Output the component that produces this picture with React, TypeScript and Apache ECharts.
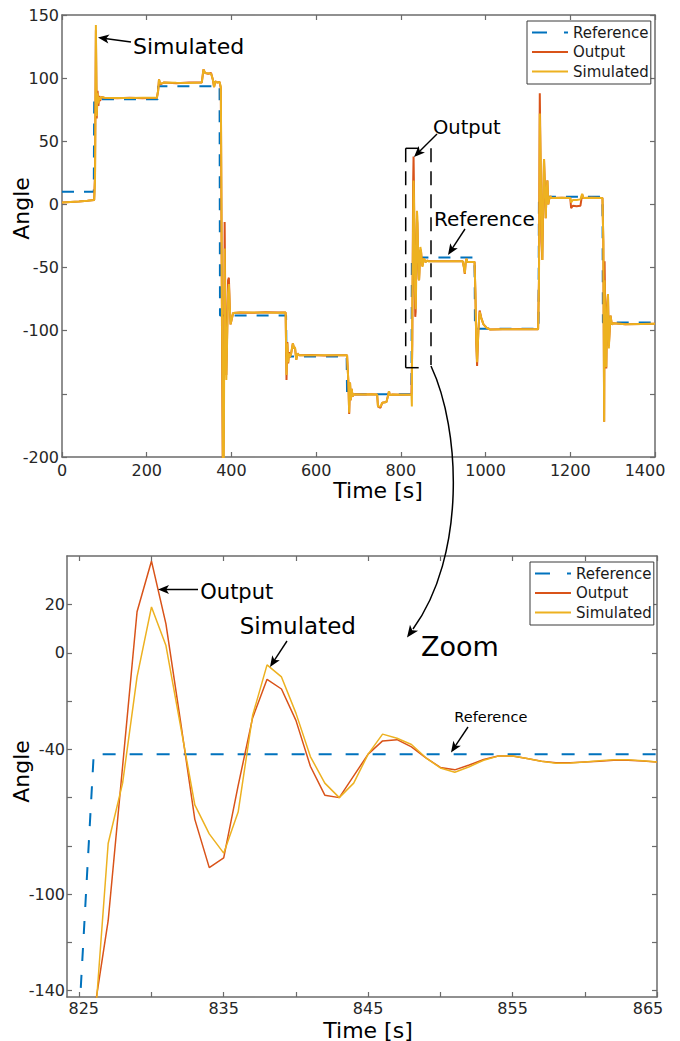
import React, { useEffect, useRef } from "react";
import * as echarts from "echarts";

const BLUE = "#0072BD";
const RED = "#D95319";
const YELLOW = "#EDB120";
const FONT = "'DejaVu Sans', Verdana, sans-serif";
const AXIS_COLOR = "#6b6b6b";
const LABEL_COLOR = "#262626";

// Set-point over the whole run (step edges take one second)
const refTime = [0, 75, 76, 226, 227, 372, 373, 529, 530, 672, 673, 825, 826, 974, 975, 1125, 1126, 1276, 1277, 1400];
const refAngle = [10, 10, 83.2, 83.2, 93.5, 93.5, -88, -88, -120.5, -120.5, -150.3, -150.3, -42, -42, -98.5, -98.5, 6, 6, -93.5, -93.5];

// Whole run, before the zoomed window
const runTimeA = [
  0, 20, 40, 60, 76,
  78, 80, 82, 84, 86,
  88, 90, 93, 100, 130,
  160, 190, 224, 227, 229,
  232, 240, 270, 300, 330,
  334, 338, 345, 352, 356,
  359, 362, 366, 372, 375,
  376, 378, 380, 382, 384,
  386, 388, 390, 392, 394,
  396, 398, 400, 404, 420,
  450, 480, 510, 528, 530,
  532, 534, 536, 538, 541,
  545, 548, 550, 553, 556,
  560, 590, 620, 650, 673,
  676, 678, 680, 682, 684,
  686, 689, 710, 730, 744,
  746, 752, 756, 766, 770,
  772, 774, 780, 800, 824,
];
const runOutputA = [
  1.5, 2, 2.4, 3, 3.5,
  25, 138, 68, 90, 78,
  86, 82, 85, 84.5, 84,
  84.5, 84, 84.5, 90, 99,
  95, 96.5, 96, 96.5, 96.5,
  107, 104, 103.5, 104, 99,
  93, 97.5, 96.5, 97, 92,
  20, -120, -230, -180, -14,
  -100, -135, -100, -60, -58,
  -80, -95, -92, -86, -85.5,
  -85.8, -85.4, -85.6, -85.5, -139,
  -109, -126, -117, -121, -118,
  -110, -114, -113, -123, -118,
  -119.5, -119.3, -119.6, -119.4, -119.5,
  -140, -166, -141, -155, -146,
  -152, -150.3, -150.5, -150.3, -150.5,
  -160, -161, -157, -156.5, -151,
  -148, -151, -150.5, -150.8, -150.5,
];
const runSimulatedA = [
  1.5, 2, 2.4, 3, 3.5,
  20, 142, 70, 88, 80,
  85, 83, 85, 84.5, 84.3,
  84.2, 84.5, 84.5, 90, 99,
  95.5, 96.5, 96.3, 96.2, 96.5,
  107, 104, 103.8, 103.5, 99,
  93, 97.5, 96.5, 97, 93,
  30, -100, -215, -200, -35,
  -110, -139, -105, -70, -63,
  -80, -95, -92, -86, -85.6,
  -85.6, -85.5, -85.7, -85.5, -135,
  -110, -125, -118, -121, -118,
  -110, -114, -113, -123, -118,
  -119.5, -119.4, -119.5, -119.4, -119.5,
  -140, -165, -141, -155, -146,
  -152, -150.3, -150.5, -150.4, -150.5,
  -160, -160, -157, -156.5, -151,
  -148, -151, -150.5, -150.7, -150.5,
];

// Zoomed window, 825-865 s, one-second samples
const zoomTime = [
  825, 826, 827, 828, 829, 830, 831, 832, 833, 834,
  835, 836, 837, 838, 839, 840, 841, 842, 843, 844,
  845, 846, 847, 848, 849, 850, 851, 852, 853, 854,
  855, 856, 857, 858, 859, 860, 861, 862, 863, 864,
  865,
];
const zoomReference = [
  -150, -42, -42, -42, -42, -42, -42, -42, -42, -42,
  -42, -42, -42, -42, -42, -42, -42, -42, -42, -42,
  -42, -42, -42, -42, -42, -42, -42, -42, -42, -42,
  -42, -42, -42, -42, -42, -42, -42, -42, -42, -42,
  -42,
];
const zoomOutput = [
  -150, -150, -111, -47, 17, 38, 12, -28, -69, -89,
  -85, -55, -27, -11, -15, -28, -47, -59, -60, -51,
  -42, -36.5, -36, -39, -43.5, -47.5, -48.5, -46.5, -44.2, -42.8,
  -42.8, -43.8, -44.9, -45.6, -45.6, -45.2, -44.9, -44.5, -44.5, -44.8,
  -45.2,
];
const zoomSimulated = [
  -150, -160, -79, -54, -10, 19, 3, -30, -63, -75,
  -83, -66, -26, -5, -10, -25, -43, -54, -60, -54,
  -42, -33.7, -35.4, -38, -43.5, -47.7, -49.5, -47.2, -44.5, -42.8,
  -42.8, -43.8, -44.9, -45.8, -45.7, -45.2, -44.7, -44.3, -44.3, -44.7,
  -45.2,
];

// Whole run, after the zoomed window
const runTimeB = [
  880, 910, 946, 949, 951,
  953, 955, 957, 974, 976,
  978, 980, 983, 986, 990,
  995, 1002, 1010, 1040, 1080,
  1124, 1126, 1128, 1130, 1132,
  1134, 1136, 1138, 1140, 1142,
  1144, 1146, 1148, 1150, 1153,
  1156, 1180, 1200, 1202, 1206,
  1215, 1224, 1228, 1231, 1250,
  1276, 1278, 1280, 1281, 1283,
  1285, 1287, 1289, 1291, 1293,
  1295, 1298, 1302, 1330, 1370,
  1400,
];
const runOutputB = [
  -45, -45, -45, -50, -55,
  -46, -43, -45.5, -45.5, -70,
  -110, -128, -100, -84, -90,
  -95, -97.5, -99, -98.8, -98.7,
  -98.8, -60, 88, 30, -30,
  -44, 0, 36, 15, -11,
  10, 19, 0, 4, 6.5,
  5, 5.2, 5, -3, -1,
  -1.5, -1, 8, 5, 5.2,
  5, -30, -172, -45, -100,
  -130, -80, -71, -112, -100,
  -88, -95, -94, -94.8, -94.6,
  -94.5,
];
const runSimulatedB = [
  -45, -45, -45, -50, -54.6,
  -46, -43, -45.5, -45.5, -70,
  -108, -125, -100, -85, -90,
  -95, -97.5, -99, -98.8, -98.8,
  -98.8, -65, 72, 35, -20,
  -44, 5, 36, 15, -11,
  10, 19, 0, 4, 6.5,
  5, 5.2, 5, 1.5, 3.5,
  3.5, 4, 8.5, 5, 5.2,
  5, -30, -172, -60, -110,
  -129, -82, -71, -114, -100,
  -88, -95, -94, -94.8, -94.6,
  -94.5,
];

// Axis ticks and labels
const runTimeTicks = { min: 0, max: 1400, interval: 200 };
const runAngleTicks = { min: -200, max: 150, interval: 50 };
const runAngleHiddenLabel = -150;
const zoomTimeRange = { min: 824.15, max: 865 };
const zoomTimeTicks = [825, 830, 835, 840, 845, 850, 855, 860, 865];
const zoomTimeLabels = [825, 835, 845, 855, 865];
const zoomAngleRange = { min: -142.6, max: 40.1 };
const zoomAngleTicks = [-140, -120, -100, -80, -60, -40, -20, 0, 20];
const zoomAngleLabels = [-140, -100, -40, 0, 20];

const pairs = (xs: number[], ys: number[]) => xs.map((x, i) => [x, ys[i]]);

const runTime = [...runTimeA, ...zoomTime, ...runTimeB];
const runOutput = [...runOutputA, ...zoomOutput, ...runOutputB];
const runSimulated = [...runSimulatedA, ...zoomSimulated, ...runSimulatedB];

const labelText = { fontFamily: FONT, fontSize: 16, color: LABEL_COLOR };
const axisLine = { show: true, onZero: false, lineStyle: { color: AXIS_COLOR, width: 1.5 } };
const axisTick = { show: true, inside: true, length: 5, lineStyle: { color: AXIS_COLOR, width: 1.2 } };

function text(str: string, x: number, y: number, size: number, extra: any = {}) {
  return {
    type: "text",
    x,
    y,
    z: 100,
    silent: true,
    ...extra,
    style: {
      text: str,
      fontFamily: FONT,
      fontSize: size,
      fill: "#000",
      align: extra.align || "left",
      verticalAlign: "middle",
    },
  };
}

function arrowHead(tx: number, ty: number, ux: number, uy: number, len = 11, half = 4.5) {
  const bx = tx - ux * len;
  const by = ty - uy * len;
  const nx = tx - ux * len * 0.75;
  const ny = ty - uy * len * 0.75;
  return {
    type: "polygon",
    z: 100,
    silent: true,
    shape: {
      points: [
        [tx, ty],
        [bx - uy * half, by + ux * half],
        [nx, ny],
        [bx + uy * half, by - ux * half],
      ],
    },
    style: { fill: "#000" },
  };
}

function arrow(x1: number, y1: number, x2: number, y2: number) {
  const dx = x2 - x1;
  const dy = y2 - y1;
  const l = Math.hypot(dx, dy);
  const ux = dx / l;
  const uy = dy / l;
  return [
    {
      type: "line",
      z: 100,
      silent: true,
      shape: { x1, y1, x2: x2 - ux * 7, y2: y2 - uy * 7 },
      style: { stroke: "#000", lineWidth: 1.4 },
    },
    arrowHead(x2, y2, ux, uy),
  ];
}

function dashed(x1: number, y1: number, x2: number, y2: number, dash: number[]) {
  return {
    type: "line",
    z: 100,
    silent: true,
    shape: { x1, y1, x2, y2 },
    style: { stroke: "#000", lineWidth: 1.5, lineDash: dash },
  };
}

function buildOption() {
  const curveEnd = { x: 413, y: 629 };
  const cp2 = { x: 466, y: 556 };
  const cdx = 407 - cp2.x;
  const cdy = 637.5 - cp2.y;
  const cl = Math.hypot(cdx, cdy);

  const graphic = [
    // axis titles
    text("Time [s]", 378, 490.5, 22, { align: "center" }),
    text("Angle", 21, 208.4, 22, { align: "center", rotation: Math.PI / 2 }),
    text("Time [s]", 368, 1030, 22, { align: "center" }),
    text("Angle", 21.5, 771.5, 22, { align: "center", rotation: Math.PI / 2 }),

    // notes on the whole-run plot
    text("Simulated", 133, 46, 22),
    ...arrow(131, 42, 98, 37.5),
    text("Output", 433, 127.5, 19.5),
    ...arrow(437, 134, 414, 157),
    text("Reference", 434, 219, 20),
    ...arrow(465, 229, 448, 255),

    // outline of the zoomed window
    dashed(405.7, 148.3, 431, 148.3, [13, 13]),
    dashed(405.7, 148.3, 405.7, 367.7, [14, 9]),
    dashed(431, 148.3, 431, 365, [14, 9]),
    dashed(405.7, 367.7, 431, 367.7, [13, 13]),
    {
      type: "bezierCurve",
      z: 100,
      silent: true,
      shape: { x1: 431, y1: 366, cpx1: 461, cpy1: 430, cpx2: cp2.x, cpy2: cp2.y, x2: curveEnd.x, y2: curveEnd.y },
      style: { stroke: "#000", lineWidth: 1.5, fill: "none" },
    },
    arrowHead(407, 637.5, cdx / cl, cdy / cl, 12, 5),

    // notes on the zoomed plot
    text("Output", 200.3, 591.8, 21),
    ...arrow(198, 589.5, 158, 589.5),
    text("Simulated", 239.7, 625.5, 23),
    ...arrow(287, 641, 270, 667),
    text("Zoom", 421, 646.7, 27),
    text("Reference", 454.3, 717, 14.5),
    ...arrow(468, 727, 451, 752.5),
  ];

  const legendBase = {
    orient: "vertical",
    itemWidth: 36,
    itemHeight: 14,
    itemGap: 4.5,
    padding: [4, 2, 5, 4],
    borderColor: "#3a3a3a",
    borderWidth: 1,
    borderRadius: 0,
    backgroundColor: "#fff",
    selectedMode: false,
    // line-only keys: the marker dot is made transparent
    itemStyle: { color: "rgba(0,0,0,0)", borderWidth: 0, opacity: 0 },
    textStyle: { fontFamily: FONT, fontSize: 15, color: "#1a1a1a" },
    data: [
      { name: "Reference", lineStyle: { type: [15, 17], width: 2 } },
      { name: "Output" },
      { name: "Simulated" },
    ],
  };

  const line = (name: string, color: string, width: number, data: number[][], gridIdx: number, dash?: number[]) => ({
    name,
    type: "line",
    xAxisIndex: gridIdx * 2,
    yAxisIndex: gridIdx * 2,
    data,
    symbol: "none",
    showSymbol: false,
    clip: true,
    silent: true,
    color,
    lineStyle: { color, width, type: dash || "solid" },
    emphasis: { disabled: true },
  });

  return {
    animation: false,
    backgroundColor: "#fff",
    grid: [
      { left: 62, top: 15, width: 593, height: 442, outerBoundsMode: "none" },
      { left: 67, top: 556, width: 590, height: 441, outerBoundsMode: "none" },
    ],
    legend: [
      { ...legendBase, left: 527, top: 21 },
      { ...legendBase, left: 530, top: 562 },
    ],
    xAxis: [
      {
        gridIndex: 0,
        type: "value",
        position: "bottom",
        ...runTimeTicks,
        axisLine,
        axisTick,
        splitLine: { show: false },
        axisLabel: {
          ...labelText,
          margin: 5,
          formatter: (v: number) => (v === runTimeTicks.max ? `{end|${v}}` : `${v}`),
          rich: { end: { ...labelText, padding: [0, 20, 0, 0] } },
        },
      },
      {
        gridIndex: 0,
        type: "value",
        position: "top",
        ...runTimeTicks,
        axisLine,
        axisTick,
        splitLine: { show: false },
        axisLabel: { show: false },
      },
      {
        gridIndex: 1,
        type: "value",
        position: "bottom",
        ...zoomTimeRange,
        axisLine,
        axisTick: { ...axisTick, customValues: zoomTimeTicks },
        splitLine: { show: false },
        axisLabel: {
          ...labelText,
          margin: 3,
          customValues: zoomTimeLabels,
          formatter: (v: number) =>
            v === zoomTimeLabels[0] ? `{first|${v}}` : v === zoomTimeLabels[zoomTimeLabels.length - 1] ? `{last|${v}}` : `${v}`,
          rich: {
            first: { ...labelText, padding: [0, 0, 0, 9] },
            last: { ...labelText, padding: [0, 18, 0, 0] },
          },
        },
      },
      {
        gridIndex: 1,
        type: "value",
        position: "top",
        ...zoomTimeRange,
        axisLine,
        axisTick: { ...axisTick, customValues: zoomTimeTicks },
        splitLine: { show: false },
        axisLabel: { show: false },
      },
    ],
    yAxis: [
      {
        gridIndex: 0,
        type: "value",
        position: "left",
        ...runAngleTicks,
        axisLine,
        axisTick,
        splitLine: { show: false },
        axisLabel: {
          ...labelText,
          margin: 3,
          formatter: (v: number) => (v === runAngleHiddenLabel ? "" : `${v}`),
        },
      },
      {
        gridIndex: 0,
        type: "value",
        position: "right",
        ...runAngleTicks,
        axisLine,
        axisTick,
        splitLine: { show: false },
        axisLabel: { show: false },
      },
      {
        gridIndex: 1,
        type: "value",
        position: "left",
        ...zoomAngleRange,
        axisLine,
        axisTick: { ...axisTick, customValues: zoomAngleTicks },
        splitLine: { show: false },
        axisLabel: { ...labelText, margin: 2, customValues: zoomAngleLabels },
      },
      {
        gridIndex: 1,
        type: "value",
        position: "right",
        ...zoomAngleRange,
        axisLine,
        axisTick: { ...axisTick, customValues: zoomAngleTicks },
        splitLine: { show: false },
        axisLabel: { show: false },
      },
    ],
    series: [
      line("Reference", BLUE, 2, pairs(refTime, refAngle), 0, [12, 10]),
      line("Output", RED, 2, pairs(runTime, runOutput), 0),
      line("Simulated", YELLOW, 2, pairs(runTime, runSimulated), 0),
      line("Reference", BLUE, 2, pairs(zoomTime, zoomReference), 1, [13, 14]),
      line("Output", RED, 1.5, pairs(zoomTime, zoomOutput), 1),
      line("Simulated", YELLOW, 1.5, pairs(zoomTime, zoomSimulated), 1),
    ],
    graphic,
  };
}

export default function App() {
  const ref = useRef<HTMLDivElement>(null);
  useEffect(() => {
    if (!ref.current) return;
    const chart = echarts.init(ref.current, null, { renderer: "svg" });
    chart.setOption(buildOption() as any);
    return () => chart.dispose();
  }, []);
  return (
    <div
      ref={ref}
      style={{ position: "absolute", left: 0, top: 0, width: 680, height: 1041, background: "#fff" }}
    />
  );
}
